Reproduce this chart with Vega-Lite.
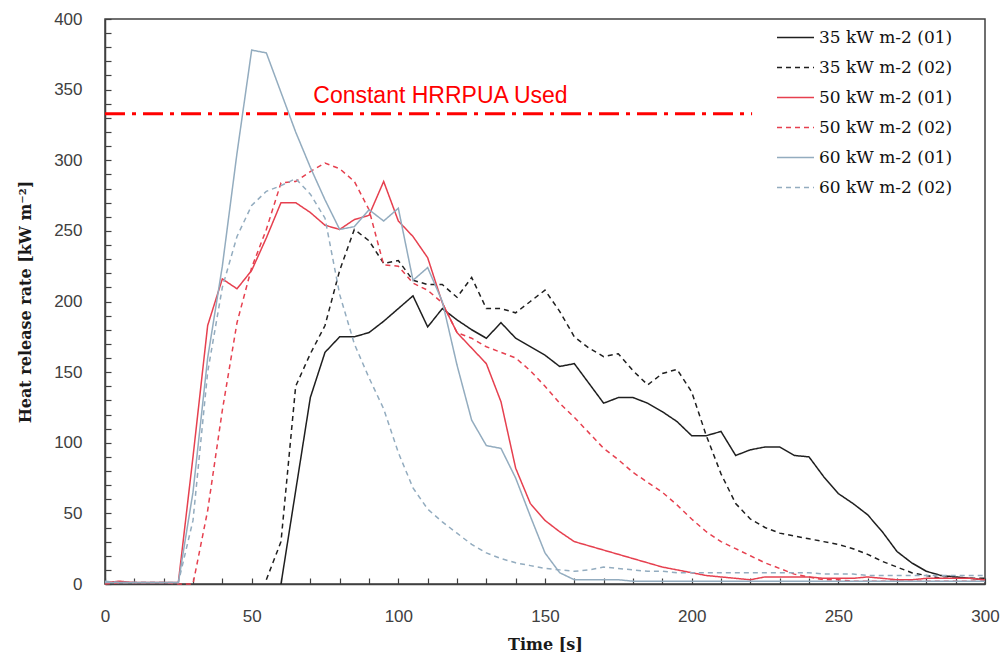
{
  "$schema": "https://vega.github.io/schema/vega-lite/v6.json",
  "width": 880,
  "height": 565,
  "autosize": {"type": "none"},
  "padding": {"left": 105, "top": 19, "right": 18, "bottom": 77},
  "background": "white",
  "config": {
    "view": {"stroke": "#404040", "strokeWidth": 1.5},
    "axis": {
      "grid": false,
      "labelFont": "Liberation Sans",
      "labelFontSize": 17,
      "labelColor": "#404040",
      "titleFont": "DejaVu Serif",
      "titleFontWeight": "bold",
      "titleFontSize": 16,
      "titleColor": "#1a1a1a",
      "domainColor": "#404040",
      "domainWidth": 1.5,
      "tickColor": "#404040",
      "tickWidth": 1.2,
      "tickSize": -6
    },
    "legend": {
      "labelFont": "DejaVu Serif",
      "labelFontSize": 17,
      "labelColor": "#111111",
      "symbolType": "stroke",
      "symbolSize": 1369,
      "symbolStrokeWidth": 1.5
    }
  },
  "encoding": {
    "x": {
      "field": "t", "type": "quantitative",
      "scale": {"domain": [0, 300], "nice": false},
      "axis": {
        "title": "Time [s]",
        "values": [0,10,20,30,40,50,60,70,80,90,100,110,120,130,140,150,160,170,180,190,200,210,220,230,240,250,260,270,280,290,300],
        "labelExpr": "floor(datum.value / 50) * 50 == datum.value ? datum.label : ''",
        "labelOverlap": false,
        "labelFlush": false,
        "labelPadding": 30,
        "titlePadding": 12
      }
    },
    "y": {
      "field": "v", "type": "quantitative",
      "scale": {"domain": [0, 400], "nice": false},
      "axis": {
        "title": "Heat release rate [kW m⁻²]",
        "values": [0,10,20,30,40,50,60,70,80,90,100,110,120,130,140,150,160,170,180,190,200,210,220,230,240,250,260,270,280,290,300,310,320,330,340,350,360,370,380,390,400],
        "labelExpr": "floor(datum.value / 50) * 50 == datum.value ? datum.label : ''",
        "labelOverlap": false,
        "labelPadding": 29,
        "titlePadding": 20
      }
    }
  },
  "layer": [
    {
      "data": {"values": [
        {"t":60,"v":0,"s":"35 kW m-2 (01)"},{"t":65,"v":66,"s":"35 kW m-2 (01)"},{"t":70,"v":132,"s":"35 kW m-2 (01)"},{"t":75,"v":164,"s":"35 kW m-2 (01)"},{"t":80,"v":175,"s":"35 kW m-2 (01)"},{"t":85,"v":175,"s":"35 kW m-2 (01)"},{"t":90,"v":178,"s":"35 kW m-2 (01)"},{"t":95,"v":186,"s":"35 kW m-2 (01)"},{"t":100,"v":195,"s":"35 kW m-2 (01)"},{"t":105,"v":204,"s":"35 kW m-2 (01)"},{"t":110,"v":182,"s":"35 kW m-2 (01)"},{"t":115,"v":195,"s":"35 kW m-2 (01)"},{"t":120,"v":187,"s":"35 kW m-2 (01)"},{"t":125,"v":180,"s":"35 kW m-2 (01)"},{"t":130,"v":174,"s":"35 kW m-2 (01)"},{"t":135,"v":185,"s":"35 kW m-2 (01)"},{"t":140,"v":174,"s":"35 kW m-2 (01)"},{"t":145,"v":168,"s":"35 kW m-2 (01)"},{"t":150,"v":162,"s":"35 kW m-2 (01)"},{"t":155,"v":154,"s":"35 kW m-2 (01)"},{"t":160,"v":156,"s":"35 kW m-2 (01)"},{"t":165,"v":142,"s":"35 kW m-2 (01)"},{"t":170,"v":128,"s":"35 kW m-2 (01)"},{"t":175,"v":132,"s":"35 kW m-2 (01)"},{"t":180,"v":132,"s":"35 kW m-2 (01)"},{"t":185,"v":128,"s":"35 kW m-2 (01)"},{"t":190,"v":122,"s":"35 kW m-2 (01)"},{"t":195,"v":115,"s":"35 kW m-2 (01)"},{"t":200,"v":105,"s":"35 kW m-2 (01)"},{"t":205,"v":105,"s":"35 kW m-2 (01)"},{"t":210,"v":108,"s":"35 kW m-2 (01)"},{"t":215,"v":91,"s":"35 kW m-2 (01)"},{"t":220,"v":95,"s":"35 kW m-2 (01)"},{"t":225,"v":97,"s":"35 kW m-2 (01)"},{"t":230,"v":97,"s":"35 kW m-2 (01)"},{"t":235,"v":91,"s":"35 kW m-2 (01)"},{"t":240,"v":90,"s":"35 kW m-2 (01)"},{"t":245,"v":76,"s":"35 kW m-2 (01)"},{"t":250,"v":64,"s":"35 kW m-2 (01)"},{"t":255,"v":57,"s":"35 kW m-2 (01)"},{"t":260,"v":49,"s":"35 kW m-2 (01)"},{"t":265,"v":37,"s":"35 kW m-2 (01)"},{"t":270,"v":23,"s":"35 kW m-2 (01)"},{"t":275,"v":15,"s":"35 kW m-2 (01)"},{"t":280,"v":9,"s":"35 kW m-2 (01)"},{"t":285,"v":6,"s":"35 kW m-2 (01)"},{"t":290,"v":5,"s":"35 kW m-2 (01)"},{"t":295,"v":4,"s":"35 kW m-2 (01)"},{"t":300,"v":3,"s":"35 kW m-2 (01)"},

        {"t":55,"v":3,"s":"35 kW m-2 (02)"},{"t":60,"v":30,"s":"35 kW m-2 (02)"},{"t":65,"v":140,"s":"35 kW m-2 (02)"},{"t":70,"v":163,"s":"35 kW m-2 (02)"},{"t":75,"v":183,"s":"35 kW m-2 (02)"},{"t":80,"v":222,"s":"35 kW m-2 (02)"},{"t":85,"v":251,"s":"35 kW m-2 (02)"},{"t":90,"v":243,"s":"35 kW m-2 (02)"},{"t":95,"v":227,"s":"35 kW m-2 (02)"},{"t":100,"v":229,"s":"35 kW m-2 (02)"},{"t":105,"v":215,"s":"35 kW m-2 (02)"},{"t":110,"v":212,"s":"35 kW m-2 (02)"},{"t":115,"v":212,"s":"35 kW m-2 (02)"},{"t":120,"v":203,"s":"35 kW m-2 (02)"},{"t":125,"v":217,"s":"35 kW m-2 (02)"},{"t":130,"v":195,"s":"35 kW m-2 (02)"},{"t":135,"v":195,"s":"35 kW m-2 (02)"},{"t":140,"v":192,"s":"35 kW m-2 (02)"},{"t":145,"v":200,"s":"35 kW m-2 (02)"},{"t":150,"v":208,"s":"35 kW m-2 (02)"},{"t":155,"v":193,"s":"35 kW m-2 (02)"},{"t":160,"v":175,"s":"35 kW m-2 (02)"},{"t":165,"v":167,"s":"35 kW m-2 (02)"},{"t":170,"v":161,"s":"35 kW m-2 (02)"},{"t":175,"v":163,"s":"35 kW m-2 (02)"},{"t":180,"v":151,"s":"35 kW m-2 (02)"},{"t":185,"v":141,"s":"35 kW m-2 (02)"},{"t":190,"v":149,"s":"35 kW m-2 (02)"},{"t":195,"v":152,"s":"35 kW m-2 (02)"},{"t":200,"v":136,"s":"35 kW m-2 (02)"},{"t":205,"v":105,"s":"35 kW m-2 (02)"},{"t":210,"v":78,"s":"35 kW m-2 (02)"},{"t":215,"v":57,"s":"35 kW m-2 (02)"},{"t":220,"v":46,"s":"35 kW m-2 (02)"},{"t":225,"v":40,"s":"35 kW m-2 (02)"},{"t":230,"v":36,"s":"35 kW m-2 (02)"},{"t":235,"v":34,"s":"35 kW m-2 (02)"},{"t":240,"v":32,"s":"35 kW m-2 (02)"},{"t":245,"v":30,"s":"35 kW m-2 (02)"},{"t":250,"v":28,"s":"35 kW m-2 (02)"},{"t":255,"v":25,"s":"35 kW m-2 (02)"},{"t":260,"v":21,"s":"35 kW m-2 (02)"},{"t":265,"v":16,"s":"35 kW m-2 (02)"},{"t":270,"v":12,"s":"35 kW m-2 (02)"},{"t":275,"v":8,"s":"35 kW m-2 (02)"},{"t":280,"v":6,"s":"35 kW m-2 (02)"},{"t":285,"v":4,"s":"35 kW m-2 (02)"},{"t":290,"v":4,"s":"35 kW m-2 (02)"},{"t":295,"v":4,"s":"35 kW m-2 (02)"},{"t":300,"v":4,"s":"35 kW m-2 (02)"},

        {"t":0,"v":1,"s":"50 kW m-2 (01)"},{"t":5,"v":2,"s":"50 kW m-2 (01)"},{"t":10,"v":1,"s":"50 kW m-2 (01)"},{"t":15,"v":1,"s":"50 kW m-2 (01)"},{"t":20,"v":1,"s":"50 kW m-2 (01)"},{"t":25,"v":1,"s":"50 kW m-2 (01)"},{"t":30,"v":90,"s":"50 kW m-2 (01)"},{"t":35,"v":183,"s":"50 kW m-2 (01)"},{"t":40,"v":216,"s":"50 kW m-2 (01)"},{"t":45,"v":209,"s":"50 kW m-2 (01)"},{"t":50,"v":222,"s":"50 kW m-2 (01)"},{"t":55,"v":245,"s":"50 kW m-2 (01)"},{"t":60,"v":270,"s":"50 kW m-2 (01)"},{"t":65,"v":270,"s":"50 kW m-2 (01)"},{"t":70,"v":263,"s":"50 kW m-2 (01)"},{"t":75,"v":254,"s":"50 kW m-2 (01)"},{"t":80,"v":251,"s":"50 kW m-2 (01)"},{"t":85,"v":258,"s":"50 kW m-2 (01)"},{"t":90,"v":261,"s":"50 kW m-2 (01)"},{"t":95,"v":285,"s":"50 kW m-2 (01)"},{"t":100,"v":257,"s":"50 kW m-2 (01)"},{"t":105,"v":246,"s":"50 kW m-2 (01)"},{"t":110,"v":231,"s":"50 kW m-2 (01)"},{"t":115,"v":199,"s":"50 kW m-2 (01)"},{"t":120,"v":178,"s":"50 kW m-2 (01)"},{"t":125,"v":167,"s":"50 kW m-2 (01)"},{"t":130,"v":156,"s":"50 kW m-2 (01)"},{"t":135,"v":129,"s":"50 kW m-2 (01)"},{"t":140,"v":82,"s":"50 kW m-2 (01)"},{"t":145,"v":57,"s":"50 kW m-2 (01)"},{"t":150,"v":45,"s":"50 kW m-2 (01)"},{"t":155,"v":37,"s":"50 kW m-2 (01)"},{"t":160,"v":30,"s":"50 kW m-2 (01)"},{"t":165,"v":27,"s":"50 kW m-2 (01)"},{"t":170,"v":24,"s":"50 kW m-2 (01)"},{"t":175,"v":21,"s":"50 kW m-2 (01)"},{"t":180,"v":18,"s":"50 kW m-2 (01)"},{"t":185,"v":15,"s":"50 kW m-2 (01)"},{"t":190,"v":12,"s":"50 kW m-2 (01)"},{"t":195,"v":10,"s":"50 kW m-2 (01)"},{"t":200,"v":8,"s":"50 kW m-2 (01)"},{"t":205,"v":6,"s":"50 kW m-2 (01)"},{"t":210,"v":5,"s":"50 kW m-2 (01)"},{"t":215,"v":4,"s":"50 kW m-2 (01)"},{"t":220,"v":3,"s":"50 kW m-2 (01)"},{"t":225,"v":5,"s":"50 kW m-2 (01)"},{"t":230,"v":5,"s":"50 kW m-2 (01)"},{"t":235,"v":5,"s":"50 kW m-2 (01)"},{"t":240,"v":5,"s":"50 kW m-2 (01)"},{"t":245,"v":4,"s":"50 kW m-2 (01)"},{"t":250,"v":4,"s":"50 kW m-2 (01)"},{"t":255,"v":4,"s":"50 kW m-2 (01)"},{"t":260,"v":5,"s":"50 kW m-2 (01)"},{"t":265,"v":4,"s":"50 kW m-2 (01)"},{"t":270,"v":3,"s":"50 kW m-2 (01)"},{"t":275,"v":3,"s":"50 kW m-2 (01)"},{"t":280,"v":4,"s":"50 kW m-2 (01)"},{"t":285,"v":4,"s":"50 kW m-2 (01)"},{"t":290,"v":4,"s":"50 kW m-2 (01)"},{"t":295,"v":4,"s":"50 kW m-2 (01)"},{"t":300,"v":3,"s":"50 kW m-2 (01)"},

        {"t":0,"v":0,"s":"50 kW m-2 (02)"},{"t":5,"v":1,"s":"50 kW m-2 (02)"},{"t":10,"v":1,"s":"50 kW m-2 (02)"},{"t":15,"v":1,"s":"50 kW m-2 (02)"},{"t":20,"v":1,"s":"50 kW m-2 (02)"},{"t":25,"v":0,"s":"50 kW m-2 (02)"},{"t":30,"v":0,"s":"50 kW m-2 (02)"},{"t":35,"v":52,"s":"50 kW m-2 (02)"},{"t":40,"v":123,"s":"50 kW m-2 (02)"},{"t":45,"v":185,"s":"50 kW m-2 (02)"},{"t":50,"v":224,"s":"50 kW m-2 (02)"},{"t":55,"v":251,"s":"50 kW m-2 (02)"},{"t":60,"v":284,"s":"50 kW m-2 (02)"},{"t":65,"v":285,"s":"50 kW m-2 (02)"},{"t":70,"v":292,"s":"50 kW m-2 (02)"},{"t":75,"v":298,"s":"50 kW m-2 (02)"},{"t":80,"v":294,"s":"50 kW m-2 (02)"},{"t":85,"v":285,"s":"50 kW m-2 (02)"},{"t":90,"v":265,"s":"50 kW m-2 (02)"},{"t":95,"v":226,"s":"50 kW m-2 (02)"},{"t":100,"v":225,"s":"50 kW m-2 (02)"},{"t":105,"v":213,"s":"50 kW m-2 (02)"},{"t":110,"v":208,"s":"50 kW m-2 (02)"},{"t":115,"v":199,"s":"50 kW m-2 (02)"},{"t":120,"v":178,"s":"50 kW m-2 (02)"},{"t":125,"v":174,"s":"50 kW m-2 (02)"},{"t":130,"v":168,"s":"50 kW m-2 (02)"},{"t":135,"v":164,"s":"50 kW m-2 (02)"},{"t":140,"v":160,"s":"50 kW m-2 (02)"},{"t":145,"v":151,"s":"50 kW m-2 (02)"},{"t":150,"v":140,"s":"50 kW m-2 (02)"},{"t":155,"v":128,"s":"50 kW m-2 (02)"},{"t":160,"v":118,"s":"50 kW m-2 (02)"},{"t":165,"v":107,"s":"50 kW m-2 (02)"},{"t":170,"v":96,"s":"50 kW m-2 (02)"},{"t":175,"v":88,"s":"50 kW m-2 (02)"},{"t":180,"v":79,"s":"50 kW m-2 (02)"},{"t":185,"v":72,"s":"50 kW m-2 (02)"},{"t":190,"v":65,"s":"50 kW m-2 (02)"},{"t":195,"v":56,"s":"50 kW m-2 (02)"},{"t":200,"v":46,"s":"50 kW m-2 (02)"},{"t":205,"v":37,"s":"50 kW m-2 (02)"},{"t":210,"v":30,"s":"50 kW m-2 (02)"},{"t":215,"v":25,"s":"50 kW m-2 (02)"},{"t":220,"v":20,"s":"50 kW m-2 (02)"},{"t":225,"v":15,"s":"50 kW m-2 (02)"},{"t":230,"v":11,"s":"50 kW m-2 (02)"},{"t":235,"v":7,"s":"50 kW m-2 (02)"},{"t":240,"v":5,"s":"50 kW m-2 (02)"},{"t":245,"v":3,"s":"50 kW m-2 (02)"},{"t":250,"v":3,"s":"50 kW m-2 (02)"},{"t":255,"v":2,"s":"50 kW m-2 (02)"},{"t":260,"v":2,"s":"50 kW m-2 (02)"},{"t":265,"v":2,"s":"50 kW m-2 (02)"},{"t":270,"v":2,"s":"50 kW m-2 (02)"},{"t":275,"v":2,"s":"50 kW m-2 (02)"},{"t":280,"v":2,"s":"50 kW m-2 (02)"},{"t":285,"v":2,"s":"50 kW m-2 (02)"},{"t":290,"v":2,"s":"50 kW m-2 (02)"},{"t":295,"v":2,"s":"50 kW m-2 (02)"},{"t":300,"v":2,"s":"50 kW m-2 (02)"},

        {"t":0,"v":1,"s":"60 kW m-2 (01)"},{"t":5,"v":1,"s":"60 kW m-2 (01)"},{"t":10,"v":1,"s":"60 kW m-2 (01)"},{"t":15,"v":1,"s":"60 kW m-2 (01)"},{"t":20,"v":1,"s":"60 kW m-2 (01)"},{"t":25,"v":1,"s":"60 kW m-2 (01)"},{"t":30,"v":65,"s":"60 kW m-2 (01)"},{"t":35,"v":160,"s":"60 kW m-2 (01)"},{"t":40,"v":225,"s":"60 kW m-2 (01)"},{"t":45,"v":305,"s":"60 kW m-2 (01)"},{"t":50,"v":378,"s":"60 kW m-2 (01)"},{"t":55,"v":376,"s":"60 kW m-2 (01)"},{"t":60,"v":348,"s":"60 kW m-2 (01)"},{"t":65,"v":320,"s":"60 kW m-2 (01)"},{"t":70,"v":295,"s":"60 kW m-2 (01)"},{"t":75,"v":272,"s":"60 kW m-2 (01)"},{"t":80,"v":251,"s":"60 kW m-2 (01)"},{"t":85,"v":253,"s":"60 kW m-2 (01)"},{"t":90,"v":265,"s":"60 kW m-2 (01)"},{"t":95,"v":257,"s":"60 kW m-2 (01)"},{"t":100,"v":266,"s":"60 kW m-2 (01)"},{"t":105,"v":215,"s":"60 kW m-2 (01)"},{"t":110,"v":224,"s":"60 kW m-2 (01)"},{"t":115,"v":200,"s":"60 kW m-2 (01)"},{"t":120,"v":155,"s":"60 kW m-2 (01)"},{"t":125,"v":116,"s":"60 kW m-2 (01)"},{"t":130,"v":98,"s":"60 kW m-2 (01)"},{"t":135,"v":96,"s":"60 kW m-2 (01)"},{"t":140,"v":75,"s":"60 kW m-2 (01)"},{"t":145,"v":48,"s":"60 kW m-2 (01)"},{"t":150,"v":22,"s":"60 kW m-2 (01)"},{"t":155,"v":8,"s":"60 kW m-2 (01)"},{"t":160,"v":3,"s":"60 kW m-2 (01)"},{"t":165,"v":3,"s":"60 kW m-2 (01)"},{"t":170,"v":3,"s":"60 kW m-2 (01)"},{"t":175,"v":3,"s":"60 kW m-2 (01)"},{"t":180,"v":2,"s":"60 kW m-2 (01)"},{"t":185,"v":2,"s":"60 kW m-2 (01)"},{"t":190,"v":2,"s":"60 kW m-2 (01)"},{"t":195,"v":2,"s":"60 kW m-2 (01)"},{"t":200,"v":2,"s":"60 kW m-2 (01)"},{"t":205,"v":2,"s":"60 kW m-2 (01)"},{"t":210,"v":2,"s":"60 kW m-2 (01)"},{"t":215,"v":2,"s":"60 kW m-2 (01)"},{"t":220,"v":2,"s":"60 kW m-2 (01)"},{"t":225,"v":2,"s":"60 kW m-2 (01)"},{"t":230,"v":2,"s":"60 kW m-2 (01)"},{"t":235,"v":2,"s":"60 kW m-2 (01)"},{"t":240,"v":2,"s":"60 kW m-2 (01)"},{"t":245,"v":2,"s":"60 kW m-2 (01)"},{"t":250,"v":2,"s":"60 kW m-2 (01)"},{"t":255,"v":2,"s":"60 kW m-2 (01)"},{"t":260,"v":2,"s":"60 kW m-2 (01)"},{"t":265,"v":2,"s":"60 kW m-2 (01)"},{"t":270,"v":2,"s":"60 kW m-2 (01)"},{"t":275,"v":2,"s":"60 kW m-2 (01)"},{"t":280,"v":2,"s":"60 kW m-2 (01)"},{"t":285,"v":2,"s":"60 kW m-2 (01)"},{"t":290,"v":2,"s":"60 kW m-2 (01)"},{"t":295,"v":2,"s":"60 kW m-2 (01)"},{"t":300,"v":2,"s":"60 kW m-2 (01)"},

        {"t":0,"v":2,"s":"60 kW m-2 (02)"},{"t":5,"v":1,"s":"60 kW m-2 (02)"},{"t":10,"v":1,"s":"60 kW m-2 (02)"},{"t":15,"v":1,"s":"60 kW m-2 (02)"},{"t":20,"v":1,"s":"60 kW m-2 (02)"},{"t":25,"v":1,"s":"60 kW m-2 (02)"},{"t":30,"v":45,"s":"60 kW m-2 (02)"},{"t":35,"v":150,"s":"60 kW m-2 (02)"},{"t":40,"v":210,"s":"60 kW m-2 (02)"},{"t":45,"v":246,"s":"60 kW m-2 (02)"},{"t":50,"v":268,"s":"60 kW m-2 (02)"},{"t":55,"v":278,"s":"60 kW m-2 (02)"},{"t":60,"v":282,"s":"60 kW m-2 (02)"},{"t":65,"v":287,"s":"60 kW m-2 (02)"},{"t":70,"v":276,"s":"60 kW m-2 (02)"},{"t":75,"v":259,"s":"60 kW m-2 (02)"},{"t":80,"v":205,"s":"60 kW m-2 (02)"},{"t":85,"v":170,"s":"60 kW m-2 (02)"},{"t":90,"v":146,"s":"60 kW m-2 (02)"},{"t":95,"v":124,"s":"60 kW m-2 (02)"},{"t":100,"v":93,"s":"60 kW m-2 (02)"},{"t":105,"v":68,"s":"60 kW m-2 (02)"},{"t":110,"v":53,"s":"60 kW m-2 (02)"},{"t":115,"v":44,"s":"60 kW m-2 (02)"},{"t":120,"v":36,"s":"60 kW m-2 (02)"},{"t":125,"v":28,"s":"60 kW m-2 (02)"},{"t":130,"v":22,"s":"60 kW m-2 (02)"},{"t":135,"v":18,"s":"60 kW m-2 (02)"},{"t":140,"v":15,"s":"60 kW m-2 (02)"},{"t":145,"v":13,"s":"60 kW m-2 (02)"},{"t":150,"v":11,"s":"60 kW m-2 (02)"},{"t":155,"v":10,"s":"60 kW m-2 (02)"},{"t":160,"v":9,"s":"60 kW m-2 (02)"},{"t":165,"v":10,"s":"60 kW m-2 (02)"},{"t":170,"v":12,"s":"60 kW m-2 (02)"},{"t":175,"v":11,"s":"60 kW m-2 (02)"},{"t":180,"v":10,"s":"60 kW m-2 (02)"},{"t":185,"v":9,"s":"60 kW m-2 (02)"},{"t":190,"v":9,"s":"60 kW m-2 (02)"},{"t":195,"v":8,"s":"60 kW m-2 (02)"},{"t":200,"v":8,"s":"60 kW m-2 (02)"},{"t":205,"v":8,"s":"60 kW m-2 (02)"},{"t":210,"v":8,"s":"60 kW m-2 (02)"},{"t":215,"v":8,"s":"60 kW m-2 (02)"},{"t":220,"v":8,"s":"60 kW m-2 (02)"},{"t":225,"v":8,"s":"60 kW m-2 (02)"},{"t":230,"v":8,"s":"60 kW m-2 (02)"},{"t":235,"v":8,"s":"60 kW m-2 (02)"},{"t":240,"v":8,"s":"60 kW m-2 (02)"},{"t":245,"v":7,"s":"60 kW m-2 (02)"},{"t":250,"v":7,"s":"60 kW m-2 (02)"},{"t":255,"v":7,"s":"60 kW m-2 (02)"},{"t":260,"v":6,"s":"60 kW m-2 (02)"},{"t":265,"v":6,"s":"60 kW m-2 (02)"},{"t":270,"v":6,"s":"60 kW m-2 (02)"},{"t":275,"v":6,"s":"60 kW m-2 (02)"},{"t":280,"v":6,"s":"60 kW m-2 (02)"},{"t":285,"v":6,"s":"60 kW m-2 (02)"},{"t":290,"v":6,"s":"60 kW m-2 (02)"},{"t":295,"v":6,"s":"60 kW m-2 (02)"},{"t":300,"v":6,"s":"60 kW m-2 (02)"}
      ]},
      "mark": {"type": "line", "strokeWidth": 1.5},
      "encoding": {
        "color": {
          "field": "s", "type": "nominal",
          "scale": {
            "domain": ["35 kW m-2 (01)","35 kW m-2 (02)","50 kW m-2 (01)","50 kW m-2 (02)","60 kW m-2 (01)","60 kW m-2 (02)"],
            "range": ["#1f1f1f","#1f1f1f","#e6404f","#e6404f","#93acbf","#93acbf"]
          },
          "legend": {"title": null, "orient": "none", "legendX": 671, "legendY": -1}
        },
        "strokeDash": {
          "field": "s", "type": "nominal",
          "scale": {
            "domain": ["35 kW m-2 (01)","35 kW m-2 (02)","50 kW m-2 (01)","50 kW m-2 (02)","60 kW m-2 (01)","60 kW m-2 (02)"],
            "range": [[1,0],[5,4],[1,0],[5,4],[1,0],[5,4]]
          },
          "legend": {"title": null, "orient": "none", "legendX": 671, "legendY": -1}
        }
      }
    },
    {
      "data": {"values": [{"t": 0, "t2": 220.6, "v": 333}]},
      "mark": {"type": "rule", "color": "#ff0000", "strokeWidth": 3, "strokeDash": [20, 7, 4, 7]},
      "encoding": {
        "x2": {"field": "t2"}
      }
    },
    {
      "data": {"values": [{"t": 71, "v": 340.5, "label": "Constant HRRPUA Used"}]},
      "mark": {"type": "text", "align": "left", "baseline": "alphabetic", "font": "Liberation Sans", "fontSize": 23, "color": "#ff0000"},
      "encoding": {
        "text": {"field": "label"}
      }
    }
  ]
}
